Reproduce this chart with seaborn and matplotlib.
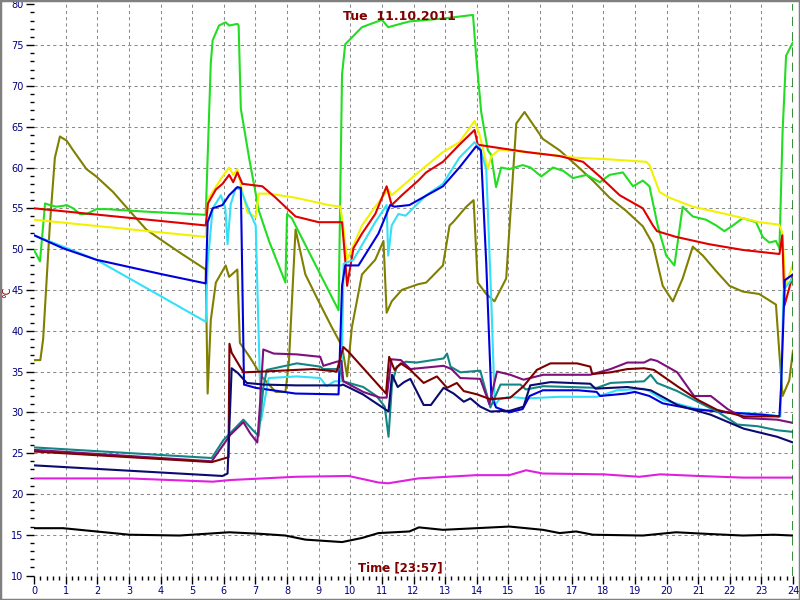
import matplotlib
matplotlib.use("Agg")
import matplotlib.pyplot as plt
import numpy as np
import pandas as pd
import seaborn as sns
from matplotlib.patches import Rectangle

# ── Data (hour of day, °C) ────────────────────────────────────────────────────
olive_t = [0.0, 0.2, 0.29, 0.5, 0.66, 0.82, 1.03, 1.24, 1.66, 1.97, 2.5, 3.02, 3.55, 4.07, 4.6, 5.43,
           5.49, 5.59, 5.75, 6.06, 6.17, 6.43, 6.51, 6.8, 7.22, 7.64, 7.95, 8.06, 8.27, 8.58, 9.0, 9.42,
           9.74, 9.9, 10.05, 10.37, 10.79, 11.05, 11.15, 11.31, 11.63, 12.15, 12.4, 12.93, 13.14, 13.25,
           13.67, 13.9, 14.03, 14.3, 14.56, 14.93, 15.25, 15.51, 15.88, 16.09, 16.62, 17.14, 17.67, 18.2,
           18.72, 19.25, 19.57, 19.88, 20.2, 20.51, 20.83, 21.15, 21.57, 21.99, 22.41, 22.93, 23.46,
           23.57, 23.67, 23.88, 24.0]
olive_v = [36.4, 36.4, 39.0, 52.9, 61.2, 63.8, 63.3, 62.1, 59.8, 58.9, 57.0, 54.7, 52.4, 51.0, 49.6, 47.5,
           32.3, 41.3, 45.9, 48.0, 46.6, 47.5, 38.5, 36.9, 34.3, 32.5, 32.5, 36.2, 52.4, 46.9, 43.6, 40.4,
           38.1, 34.4, 40.4, 46.9, 48.7, 51.0, 42.2, 43.6, 45.0, 45.7, 45.9, 48.0, 52.9, 53.3,
           55.2, 56.0, 45.9, 44.5, 43.6, 46.4, 65.4, 66.8, 64.7, 63.5, 62.1, 60.3, 58.4, 56.3,
           54.7, 52.8, 50.6, 45.5, 43.6, 46.4, 50.3, 49.2, 47.3, 45.5, 44.8, 44.5, 43.2,
           37.1, 32.0, 33.9, 37.6]

green_t = [0.0, 0.19, 0.35, 0.5, 0.7, 0.92, 1.03, 1.24, 1.45, 1.66, 1.97, 2.29, 3.5, 4.5, 5.43,
           5.59, 5.65, 5.85, 6.06, 6.17, 6.43, 6.47, 6.54, 6.8, 7.11, 7.43, 7.95, 8.0, 8.15, 9.63,
           9.74, 9.84, 10.37, 11.0, 11.2, 11.87, 13.03, 13.88, 13.98, 14.14, 14.35, 14.45, 14.61, 14.77,
           15.03, 15.45, 15.7, 16.04, 16.41, 16.73, 17.04, 17.47, 17.89, 18.2, 18.62, 18.94, 19.25,
           19.46, 19.72, 19.99, 20.25, 20.51, 20.83, 21.25, 21.57, 21.83, 22.1, 22.41, 22.83, 23.04,
           23.25, 23.46, 23.57, 23.67, 23.78, 23.99]
green_v = [49.9, 48.5, 55.6, 55.4, 55.2, 55.3, 55.4, 55.0, 54.3, 54.3, 54.9, 54.9, 54.6, 54.4, 54.2,
           72.8, 75.6, 77.4, 77.8, 77.4, 77.6, 77.4, 67.2, 61.2, 54.7, 51.0, 45.9, 54.3, 53.8, 42.5,
           71.4, 75.1, 77.2, 78.1, 77.2, 77.9, 78.3, 78.7, 73.7, 66.8, 62.1, 61.6, 57.6, 60.0,
           59.8, 60.3, 60.0, 58.9, 60.0, 59.6, 58.7, 59.1, 58.2, 59.1, 59.4, 57.7, 58.4,
           57.7, 52.9, 49.2, 48.0, 55.2, 54.0, 53.6, 52.9, 52.2, 52.9, 53.8, 53.3, 51.5,
           50.8, 51.0, 50.1, 64.4, 73.7, 75.3]

yellow_t = [0.0, 5.43, 5.5, 5.96, 6.17, 6.3, 6.43, 6.59, 6.75, 7.01, 7.11, 7.43, 8.27, 9.32, 9.69,
            9.79, 9.9, 10.16, 10.37, 10.79, 11.2, 11.31, 12.15, 12.93, 13.45, 13.93, 14.09, 14.35,
            14.46, 14.72, 15.56, 17.14, 18.2, 19.36, 19.46, 19.78, 20.09, 20.83, 21.88, 22.93,
            23.56, 23.66, 23.76, 24.0]
yellow_v = [53.6, 51.5, 56.1, 58.9, 60.0, 59.1, 59.8, 57.0, 54.5, 53.9, 56.8, 56.8, 56.3, 55.4, 55.2,
            52.4, 48.7, 51.0, 52.9, 55.2, 57.3, 56.6, 59.4, 61.9, 63.1, 65.7, 64.0, 59.8,
            61.4, 62.2, 61.9, 61.2, 61.0, 60.7, 60.3, 57.0, 56.3, 55.2, 54.3, 53.3,
            53.0, 52.0, 45.5, 48.2]

red_t = [0.0, 5.43, 5.5, 5.75, 5.96, 6.17, 6.3, 6.43, 6.59, 7.22, 7.64, 8.27, 9.0, 9.74, 9.84,
         9.9, 10.1, 10.37, 10.79, 11.15, 11.31, 11.63, 12.15, 12.4, 12.93, 13.45, 13.93, 14.03,
         14.35, 15.56, 16.62, 17.36, 17.89, 18.52, 19.25, 19.57, 19.7, 20.3, 21.35, 22.41, 23.57,
         23.66, 23.73, 24.0]
red_v = [55.0, 52.9, 55.6, 57.3, 58.0, 59.1, 58.2, 59.4, 58.0, 57.7, 56.3, 54.0, 53.3, 53.3, 48.7,
         45.5, 50.1, 51.9, 54.3, 57.7, 55.4, 56.6, 58.4, 59.4, 60.7, 62.8, 64.6, 62.8,
         62.6, 61.9, 61.4, 60.7, 58.9, 56.6, 55.0, 52.9, 52.2, 51.5, 50.6, 49.9, 49.4,
         51.7, 43.1, 46.9]

cyan_t = [0.0, 1.97, 3.02, 4.07, 5.43, 5.49, 5.65, 5.91, 6.05, 6.12, 6.22, 6.38, 6.54, 6.8, 7.01,
          7.1, 7.18, 7.42, 8.31, 9.05, 9.25, 9.5, 9.72, 9.79, 10.1, 10.79, 11.15, 11.2, 11.31,
          11.52, 11.75, 12.4, 12.93, 13.45, 13.93, 14.1, 14.3, 14.46, 14.57, 14.72, 15.03, 15.56,
          16.6, 17.8, 18.44, 19.29, 19.45, 19.9, 20.98, 21.93, 22.97, 23.6, 23.7, 24.0]
cyan_v = [51.7, 48.7, 46.4, 44.1, 41.1, 48.2, 55.0, 56.6, 55.0, 50.6, 55.5, 57.5, 57.3, 54.7, 52.9,
          40.0, 29.0, 34.2, 34.4, 34.2, 33.2, 33.8, 33.8, 48.2, 48.7, 53.3, 55.4, 49.2, 52.9,
          54.3, 54.1, 56.6, 58.0, 61.2, 63.1, 62.4, 59.8, 43.6, 30.9, 31.6, 31.9, 31.7,
          31.9, 31.9, 32.7, 32.9, 32.6, 31.5, 30.4, 30.0, 29.8, 29.5, 45.0, 46.5]

blue_t = [0.0, 0.92, 1.97, 3.02, 4.07, 5.43, 5.49, 5.65, 5.96, 6.17, 6.43, 6.54, 6.64, 7.01, 8.27,
          9.63, 9.74, 9.84, 10.26, 10.89, 11.26, 11.4, 11.87, 12.93, 13.45, 13.98, 14.13, 14.3,
          14.46, 14.61, 15.03, 15.45, 15.67, 16.09, 17.2, 17.79, 17.9, 18.72, 19.0, 19.46, 19.88,
          20.83, 21.88, 23.04, 23.57, 23.62, 23.74, 24.0]
blue_v = [51.7, 50.1, 48.7, 47.8, 46.9, 45.8, 53.3, 55.0, 55.4, 56.6, 57.6, 57.5, 33.4, 33.0, 32.3,
          32.2, 45.5, 48.0, 48.0, 51.9, 55.4, 55.2, 55.4, 57.7, 60.0, 62.6, 62.1, 48.2,
          32.0, 30.6, 30.0, 30.4, 32.0, 32.7, 32.7, 32.5, 32.0, 32.3, 32.5, 32.0, 31.1,
          30.4, 30.0, 29.7, 29.5, 33.0, 46.2, 46.9]

teal_t = [0.0, 5.62, 5.99, 6.62, 6.9, 7.1, 7.25, 7.36, 8.31, 9.05, 9.15, 9.67, 9.78, 10.41, 10.83,
          11.09, 11.21, 11.32, 11.47, 11.75, 12.1, 12.95, 13.06, 13.17, 13.48, 14.11, 14.43, 14.75,
          15.38, 15.55, 16.1, 17.8, 18.23, 19.29, 19.5, 19.7, 20.34, 20.98, 21.6, 22.24, 22.87,
          23.5, 24.0]
teal_v = [25.7, 24.4, 26.6, 29.1, 27.9, 27.1, 33.0, 35.2, 36.0, 35.6, 35.3, 35.3, 33.8, 33.1, 32.0,
          30.7, 27.0, 33.5, 35.6, 36.2, 36.1, 36.6, 37.2, 35.6, 34.9, 35.1, 30.6, 33.4,
          33.4, 32.8, 33.2, 33.0, 33.6, 33.8, 34.6, 33.6, 32.6, 31.3, 30.1, 28.5, 28.3,
          27.8, 27.6]

purple_t = [0.0, 5.62, 6.2, 6.62, 6.84, 7.06, 7.15, 7.25, 7.58, 8.31, 9.05, 9.15, 9.57, 9.72, 9.78,
            10.41, 10.94, 11.15, 11.3, 11.6, 11.9, 12.95, 13.2, 13.48, 14.11, 14.4, 14.64, 15.06,
            15.48, 16.1, 17.59, 18.23, 18.76, 19.29, 19.5, 19.7, 20.34, 20.87, 21.4, 21.93, 22.44,
            23.5, 24.0]
purple_v = [25.4, 24.0, 27.2, 28.8, 27.4, 26.3, 31.2, 37.7, 37.2, 37.1, 36.8, 35.7, 36.2, 36.3, 33.8,
            32.5, 31.8, 31.8, 36.5, 36.4, 35.3, 35.7, 35.3, 34.2, 34.1, 31.0, 35.0, 34.6,
            34.0, 34.6, 34.6, 35.3, 36.1, 36.1, 36.5, 36.3, 34.9, 32.0, 32.0, 30.4, 29.3,
            29.1, 28.7]

maroon_t = [0.0, 5.62, 6.15, 6.18, 6.25, 6.62, 7.25, 8.3, 8.83, 9.57, 9.78, 9.95, 11.13, 11.23,
            11.4, 11.6, 11.9, 12.32, 12.74, 13.06, 13.37, 13.59, 14.01, 14.43, 15.06, 15.48, 15.9,
            16.33, 17.17, 17.59, 17.65, 18.23, 18.76, 19.29, 19.6, 20.34, 21.0, 21.6, 22.44, 23.55]
maroon_v = [25.2, 23.9, 24.5, 38.4, 37.3, 34.9, 35.0, 35.2, 35.3, 35.0, 38.0, 37.4, 32.3, 36.8,
            35.2, 36.0, 35.2, 33.6, 34.4, 33.0, 33.6, 32.6, 32.2, 31.6, 31.8, 33.2, 35.2,
            36.0, 36.0, 35.6, 34.7, 34.9, 35.3, 35.4, 35.2, 33.2, 31.5, 30.3, 29.5, 29.5]

navy_t = [0.0, 5.96, 6.12, 6.25, 6.45, 6.73, 7.26, 8.3, 9.7, 9.77, 10.4, 11.21, 11.32, 11.5, 11.7,
          11.9, 12.32, 12.55, 12.95, 13.27, 13.59, 13.8, 14.11, 14.43, 15.06, 15.48, 15.69, 16.33,
          17.59, 17.75, 18.76, 19.5, 20.34, 21.4, 22.44, 23.5, 24.0]
navy_v = [23.5, 22.2, 22.5, 35.4, 34.8, 33.6, 33.4, 33.3, 33.3, 33.4, 32.2, 30.1, 34.6, 33.1, 33.7,
          34.1, 30.9, 30.9, 33.0, 32.3, 31.3, 31.7, 30.7, 30.1, 30.2, 30.7, 33.3, 33.7,
          33.5, 32.9, 33.1, 32.7, 30.9, 29.7, 28.0, 27.0, 26.3]

magenta_t = [0.0, 3.0, 5.65, 6.2, 8.27, 9.95, 10.89, 11.2, 12.15, 13.98, 15.03, 15.56, 16.09, 18.0,
             19.14, 19.8, 21.0, 22.41, 24.0]
magenta_v = [21.9, 21.9, 21.5, 21.7, 22.1, 22.2, 21.4, 21.3, 21.9, 22.3, 22.3, 22.9, 22.5, 22.4,
             22.1, 22.4, 22.2, 22.0, 22.0]

black_t = [0.0, 0.92, 1.97, 3.02, 4.6, 6.17, 7.2, 7.95, 8.58, 9.74, 10.37, 10.89, 11.87, 12.17,
           12.93, 13.98, 15.03, 16.09, 16.62, 17.14, 17.67, 19.25, 20.3, 21.3, 22.41, 23.4, 24.0]
black_v = [15.8, 15.8, 15.4, 15.0, 14.9, 15.3, 15.1, 14.9, 14.4, 14.1, 14.6, 15.2, 15.4, 15.9,
           15.6, 15.8, 16.0, 15.6, 15.2, 15.4, 15.0, 14.9, 15.3, 15.1, 14.9, 15.0, 14.9]

series = [
    ("olive", olive_t, olive_v, "#808000"),
    ("green", green_t, green_v, "#22dd22"),
    ("yellow", yellow_t, yellow_v, "#f2f200"),
    ("red", red_t, red_v, "#e00000"),
    ("cyan", cyan_t, cyan_v, "#33e0f8"),
    ("blue", blue_t, blue_v, "#0000dd"),
    ("teal", teal_t, teal_v, "#138585"),
    ("purple", purple_t, purple_v, "#7d107d"),
    ("maroon", maroon_t, maroon_v, "#7d0000"),
    ("navy", navy_t, navy_v, "#0a0a70"),
    ("magenta", magenta_t, magenta_v, "#e020e0"),
    ("black", black_t, black_v, "#000000"),
]

df = pd.concat(
    [pd.DataFrame({"hour": t, "temp": v, "sensor": name}) for name, t, v, _ in series],
    ignore_index=True,
)
palette = {name: c for name, _, _, c in series}

# ── Plot ──────────────────────────────────────────────────────────────────────
sns.set_style("white")
plt.rcParams["font.family"] = ["DejaVu Sans"]

fig = plt.figure(figsize=(8, 6), dpi=100)
fig.patch.set_facecolor("white")
ax = fig.add_axes([0.0425, 0.0408, 0.9488, 0.952])

# grid (dashed grey), drawn first so the curves sit on top
for h in range(1, 24):
    ax.axvline(h, color="#8a8a8a", lw=0.75, ls=(0, (3, 3)), zorder=0)
for y in range(15, 80, 5):
    ax.axhline(y, color="#8a8a8a", lw=0.75, ls=(0, (3, 3)), zorder=0)
ax.axvline(24, color="#007000", lw=1.1, ls=(0, (6, 4)), zorder=3)

sns.lineplot(data=df, x="hour", y="temp", hue="sensor", palette=palette,
             estimator=None, sort=False, lw=1.5, legend=False, ax=ax)

ax.set_xlim(0, 24)
ax.set_ylim(10, 80)
for spine in ax.spines.values():
    spine.set_visible(False)

ax.set_xticks(np.arange(0, 25, 1))
ax.set_xticks(np.arange(0, 24.01, 0.2), minor=True)
ax.set_yticks(np.arange(10, 81, 5))
ax.set_yticks(np.arange(10, 81, 1), minor=True)
ax.tick_params(which="major", length=6, width=1, color="black",
               labelcolor="#000080", labelsize=7, pad=1.5,
               bottom=True, left=True)
ax.tick_params(which="minor", length=3, width=1, color="black",
               bottom=True, left=True)
ax.set_xlabel("")
ax.set_ylabel("")

ax.text(0.482, 0.978, "Tue  11.10.2011", transform=ax.transAxes, ha="center", va="center",
        color="#800000", fontsize=9, fontweight="bold")
ax.text(0.482, 0.013, "Time [23:57]", transform=ax.transAxes, ha="center", va="center",
        color="#800000", fontsize=8.5, fontweight="bold")
fig.text(0.009, 0.513, "°C", rotation=90, ha="center", va="center",
         color="#800000", fontsize=7)

fig.patches.append(Rectangle((0, 0), 1, 1, transform=fig.transFigure, fill=False,
                             edgecolor="#808080", lw=2.5))

fig.savefig("out.png", dpi=100, facecolor="white")
